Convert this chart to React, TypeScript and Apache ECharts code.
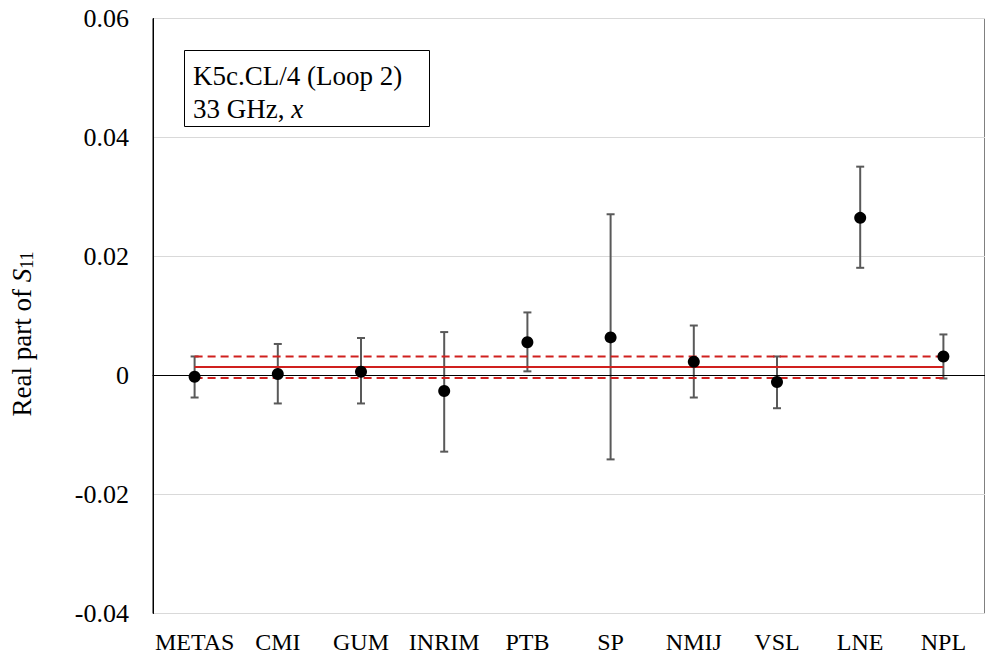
import React, { useEffect, useRef } from "react";
import * as echarts from "echarts";

const categories = ["METAS", "CMI", "GUM", "INRIM", "PTB", "SP", "NMIJ", "VSL", "LNE", "NPL"];
const values = [-0.0002, 0.00025, 0.00064, -0.0026, 0.0056, 0.0064, 0.0023, -0.0011, 0.0265, 0.0032];
const upper = [0.0032, 0.0053, 0.0063, 0.0073, 0.0106, 0.0271, 0.0084, 0.0032, 0.0351, 0.0069];
const lower = [-0.0037, -0.0047, -0.0047, -0.0128, 0.0007, -0.0141, -0.0037, -0.0055, 0.0181, -0.0005];
const refValue = 0.00143;
const refUpper = 0.0032;
const refLower = -0.0004;
const yTicks = { min: -0.04, max: 0.06, interval: 0.02 };

const FONT = "'Liberation Serif', 'Times New Roman', serif";

export default function App() {
  const ref = useRef<HTMLDivElement>(null);
  useEffect(() => {
    if (!ref.current) return;
    const chart = echarts.init(ref.current, undefined, { renderer: "svg" });
    const first = categories[0];
    const last = categories[categories.length - 1];
    const redLine = (v: number, dashed: boolean) => ({
      type: "line",
      data: [[first, v], [last, v]],
      symbol: "none",
      silent: true,
      z: 3,
      lineStyle: { color: "#D0201E", width: 2, type: dashed ? [8, 5] : "solid" },
    });
    chart.setOption({
      animation: false,
      grid: {
        left: 153,
        top: 18.5,
        width: 838,
        height: 595,
        show: true,
        borderColor: "#000",
        borderWidth: 1,
        backgroundColor: "transparent",
      },
      xAxis: {
        type: "category",
        data: categories,
        boundaryGap: true,
        axisLine: { show: true, lineStyle: { color: "#000", width: 1 } },
        axisTick: { show: false },
        axisLabel: { color: "#000", fontFamily: FONT, fontSize: 24, margin: 16, interval: 0 },
        splitLine: { show: false },
      },
      yAxis: {
        type: "value",
        min: yTicks.min,
        max: yTicks.max,
        interval: yTicks.interval,
        axisLine: { show: true, lineStyle: { color: "#000", width: 1 } },
        axisTick: { show: false },
        axisLabel: {
          color: "#000",
          fontFamily: FONT,
          fontSize: 26,
          margin: 24,
          formatter: (v: number) => (Math.abs(v) < 1e-9 ? "0" : v.toFixed(2)),
        },
        splitLine: { show: true, lineStyle: { color: "#D9D9D9", width: 1 } },
      },
      series: [
        {
          type: "custom",
          z: 2,
          silent: true,
          data: categories.map((c, i) => [i, lower[i], upper[i]]),
          encode: { x: 0, y: [1, 2] },
          renderItem: (params: any, api: any) => {
            const x = api.value(0);
            const lo = api.coord([x, api.value(1)]);
            const hi = api.coord([x, api.value(2)]);
            const w = 4;
            const st = { stroke: "#595959", lineWidth: 2 };
            return {
              type: "group",
              children: [
                { type: "line", shape: { x1: lo[0], y1: lo[1], x2: hi[0], y2: hi[1] }, style: st },
                { type: "line", shape: { x1: lo[0] - w, y1: lo[1], x2: lo[0] + w, y2: lo[1] }, style: st },
                { type: "line", shape: { x1: hi[0] - w, y1: hi[1], x2: hi[0] + w, y2: hi[1] }, style: st },
              ],
            };
          },
        },
        redLine(refValue, false),
        redLine(refUpper, true),
        redLine(refLower, true),
        {
          type: "scatter",
          z: 5,
          data: categories.map((c, i) => [c, values[i]]),
          symbol: "circle",
          symbolSize: 12,
          itemStyle: { color: "#000", opacity: 1 },
          markLine: {
            silent: true,
            symbol: "none",
            label: { show: false },
            lineStyle: { color: "#000", width: 1, type: "solid" },
            data: [{ yAxis: 0 }],
          },
        },
      ],
      graphic: [
        {
          type: "rect",
          shape: { x: 184.5, y: 50.5, width: 245, height: 76 },
          style: { fill: "#fff", stroke: "#000", lineWidth: 1 },
          z: 10,
        },
        {
          type: "text",
          x: 193,
          y: 76,
          z: 11,
          style: {
            text: "K5c.CL/4 (Loop 2)",
            fill: "#000",
            font: `27px ${FONT}`,
            verticalAlign: "middle",
            align: "left",
          },
        },
        {
          type: "text",
          x: 193,
          y: 109,
          z: 11,
          style: {
            text: "33 GHz, {i|x}",
            fill: "#000",
            font: `27px ${FONT}`,
            verticalAlign: "middle",
            align: "left",
            rich: {
              i: { fontFamily: FONT, fontSize: 27, fontStyle: "italic", fill: "#000" },
            },
          },
        },
        {
          type: "text",
          x: 22,
          y: 334,
          rotation: Math.PI / 2,
          z: 11,
          style: {
            text: "Real part of {i|S}{s|11}",
            fill: "#000",
            font: `27px ${FONT}`,
            align: "center",
            verticalAlign: "middle",
            rich: {
              i: { fontFamily: FONT, fontSize: 27, fontStyle: "italic", fill: "#000" },
              s: { fontFamily: FONT, fontSize: 18, fill: "#000", verticalAlign: "bottom", padding: [9, 0, 0, 0] },
            },
          },
        },
      ],
    });
    return () => chart.dispose();
  }, []);
  return (
    <div
      ref={ref}
      style={{ position: "fixed", left: 0, top: 0, width: 985, height: 657, background: "#fff" }}
    />
  );
}
